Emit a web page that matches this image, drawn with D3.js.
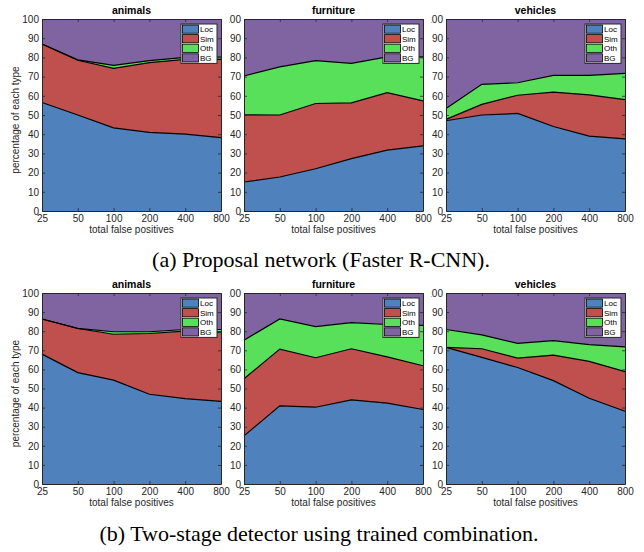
<!DOCTYPE html>
<html>
<head>
<meta charset="utf-8">
<title>False positive breakdown</title>
<style>
  body { margin: 0; background: #fff; }
  svg text { font-family: "Liberation Sans", Arial, Helvetica, sans-serif; }
  .caption { font-family: "Liberation Serif", "Times New Roman", serif !important; font-size: 22px; fill: #000; }
</style>
</head>
<body>
<div id="chart"></div>
<script src="https://d3js.org/d3.v7.min.js"></script>
<script>
// x values (total false positives) and layer names
var fpCounts = [25, 50, 100, 200, 400, 800];
var typeNames = ["Loc", "Sim", "Oth", "BG"];
var classNames = ["animals", "furniture", "vehicles"];
var yTicks = [0, 10, 20, 30, 40, 50, 60, 70, 80, 90, 100];

// (a) Proposal network: Loc, Sim, Oth in percent (BG is the rest up to 100)
var propAnimals   = [[56.5, 50.0, 43.3, 41.0, 40.0, 38.2],
                     [30.5, 28.5, 31.0, 36.3, 39.0, 40.8],
                     [ 0.0,  0.2,  1.5,  1.0,  1.0,  1.2]];
var propFurniture = [[15.1, 17.7, 22.0, 27.3, 31.7, 33.9],
                     [35.0, 32.3, 34.0, 29.0, 29.9, 23.5],
                     [20.2, 25.1, 22.3, 20.6, 18.7, 22.9]];
var propVehicles  = [[47.0, 50.0, 50.8, 44.0, 39.0, 37.6],
                     [ 0.7,  5.5,  9.5, 17.9, 21.5, 20.4],
                     [ 5.7, 10.5,  6.5,  8.7, 10.1, 13.7]];

// (b) Two-stage detector using trained combination
var twoAnimals   = [[68.0, 58.3, 54.4, 47.0, 44.7, 43.3],
                    [18.4, 23.1, 24.0, 31.8, 35.3, 36.2],
                    [ 0.0,  0.1,  1.3,  0.9,  0.9,  1.4]];
var twoFurniture = [[25.2, 40.9, 40.2, 44.0, 42.3, 39.0],
                    [29.9, 29.7, 25.9, 26.8, 24.3, 22.9],
                    [20.2, 15.8, 16.3, 13.7, 16.9, 21.1]];
var twoVehicles  = [[71.5, 66.3, 61.0, 54.1, 44.9, 38.1],
                    [ 0.0,  4.5,  4.9, 13.4, 19.3, 20.7],
                    [ 9.4,  7.3,  7.7,  7.6,  8.8, 13.0]];

var captions = ["(a) Proposal network (Faster R-CNN).",
                "(b) Two-stage detector using trained combination."];

var colors = d3.scaleOrdinal()
  .domain(typeNames)
  .range(["#4F81BD", "#C0504D", "#58E05A", "#8064A2"]);

var W = 644, H = 552;
var plotW = 179;
var lefts = [42, 244, 446];
var rows = [
  {top: 19, bottom: 211, caption: 267, capX: 321, data: [propAnimals, propFurniture, propVehicles]},
  {top: 293, bottom: 484, caption: 541, capX: 319, data: [twoAnimals, twoFurniture, twoVehicles]}
];
var ink = "#262626";

var svg = d3.select("#chart").append("svg")
  .attr("width", W)
  .attr("height", H);

rows.forEach(function(row, r) {
  var plotH = row.bottom - row.top;

  var x = d3.scaleLog().base(2)
    .domain([fpCounts[0], fpCounts[fpCounts.length - 1]])
    .range([0, plotW]);
  var y = d3.scaleLinear()
    .domain([0, 100])
    .range([plotH, 0]);

  row.data.forEach(function(vals, c) {
    // build table rows {fp, Loc, Sim, Oth, BG}
    var table = fpCounts.map(function(fp, i) {
      var d = {fp: fp, Loc: vals[0][i], Sim: vals[1][i], Oth: vals[2][i]};
      d.BG = 100 - d.Loc - d.Sim - d.Oth;
      return d;
    });
    var series = d3.stack().keys(typeNames)(table);

    var g = svg.append("g")
      .attr("transform", "translate(" + lefts[c] + "," + row.top + ")");

    var area = d3.area()
      .x(function(d) { return x(d.data.fp); })
      .y0(function(d) { return y(d[0]); })
      .y1(function(d) { return y(d[1]); });
    var edge = d3.line()
      .x(function(d) { return x(d.data.fp); })
      .y(function(d) { return y(d[1]); });

    g.selectAll(".layer")
      .data(series)
      .enter().append("path")
        .attr("class", "layer")
        .attr("d", area)
        .attr("fill", function(d) { return colors(d.key); });

    // black boundary on top of each layer (not the 100 line)
    g.selectAll(".edge")
      .data(series.slice(0, 3))
      .enter().append("path")
        .attr("class", "edge")
        .attr("d", edge)
        .attr("fill", "none")
        .attr("stroke", "#000")
        .attr("stroke-width", 1.2);

    // axes, ticks pointing inward
    g.append("g")
      .attr("transform", "translate(0," + plotH + ")")
      .call(d3.axisBottom(x).tickValues(fpCounts).tickFormat(d3.format("d"))
        .tickSizeInner(-3).tickSizeOuter(0).tickPadding(4));
    var yAxisG = g.append("g")
      .call(d3.axisLeft(y).tickValues(yTicks).tickSizeInner(-3).tickSizeOuter(0).tickPadding(3));
    g.append("g")
      .call(d3.axisTop(x).tickValues(fpCounts).tickFormat("").tickSizeInner(-3).tickSizeOuter(0));
    g.append("g")
      .attr("transform", "translate(" + plotW + ",0)")
      .call(d3.axisRight(y).tickValues(yTicks).tickFormat("").tickSizeInner(-3).tickSizeOuter(0));

    g.selectAll(".domain").attr("stroke", ink).attr("stroke-width", 1);
    g.selectAll(".tick line").attr("stroke", ink).attr("stroke-width", 0.8);
    g.selectAll(".tick text").attr("fill", ink).style("font-size", "10px");

    // the neighbour panel hides the leading "1" of 100
    if (c > 0) {
      var clipId = "clip-" + r + "-" + c;
      g.append("clipPath").attr("id", clipId)
        .append("rect")
          .attr("x", -15).attr("y", -10)
          .attr("width", 40).attr("height", plotH + 20);
      yAxisG.attr("clip-path", "url(#" + clipId + ")");
    }

    // panel title
    g.append("text")
      .attr("x", plotW / 2)
      .attr("y", -5)
      .attr("text-anchor", "middle")
      .style("font-size", "10.5px")
      .style("font-weight", "bold")
      .attr("fill", "#000")
      .text(classNames[c]);

    // x label
    g.append("text")
      .attr("x", plotW / 2)
      .attr("y", plotH + 22)
      .attr("text-anchor", "middle")
      .style("font-size", "10px")
      .attr("fill", ink)
      .text("total false positives");

    // y label on first column only
    if (c === 0) {
      g.append("text")
        .attr("transform", "rotate(-90)")
        .attr("x", -plotH / 2 - 5)
        .attr("y", -23)
        .attr("text-anchor", "middle")
        .style("font-size", "10px")
        .attr("fill", ink)
        .text("percentage of each type");
    }

    // legend
    var lgW = 36, lgRow = 9.6;
    var lg = g.append("g")
      .attr("transform", "translate(" + (plotW - lgW - 4) + ",5)");
    lg.append("rect")
      .attr("width", lgW)
      .attr("height", lgRow * typeNames.length + 1)
      .attr("fill", "#fff")
      .attr("stroke", ink)
      .attr("stroke-width", 1);
    var item = lg.selectAll(".item")
      .data(typeNames)
      .enter().append("g")
        .attr("transform", function(d, i) { return "translate(1.5," + (1 + i * lgRow) + ")"; });
    item.append("rect")
      .attr("width", 16)
      .attr("height", lgRow - 1.4)
      .attr("fill", function(d) { return colors(d); })
      .attr("stroke", "#000")
      .attr("stroke-width", 0.8);
    item.append("text")
      .attr("x", 17.5)
      .attr("y", lgRow - 2.3)
      .style("font-size", "8px")
      .attr("fill", "#000")
      .text(function(d) { return d; });
  });

  // row caption
  svg.append("text")
    .attr("class", "caption")
    .attr("x", row.capX)
    .attr("y", row.caption)
    .attr("text-anchor", "middle")
    .text(captions[r]);
});
</script>
</body>
</html>
